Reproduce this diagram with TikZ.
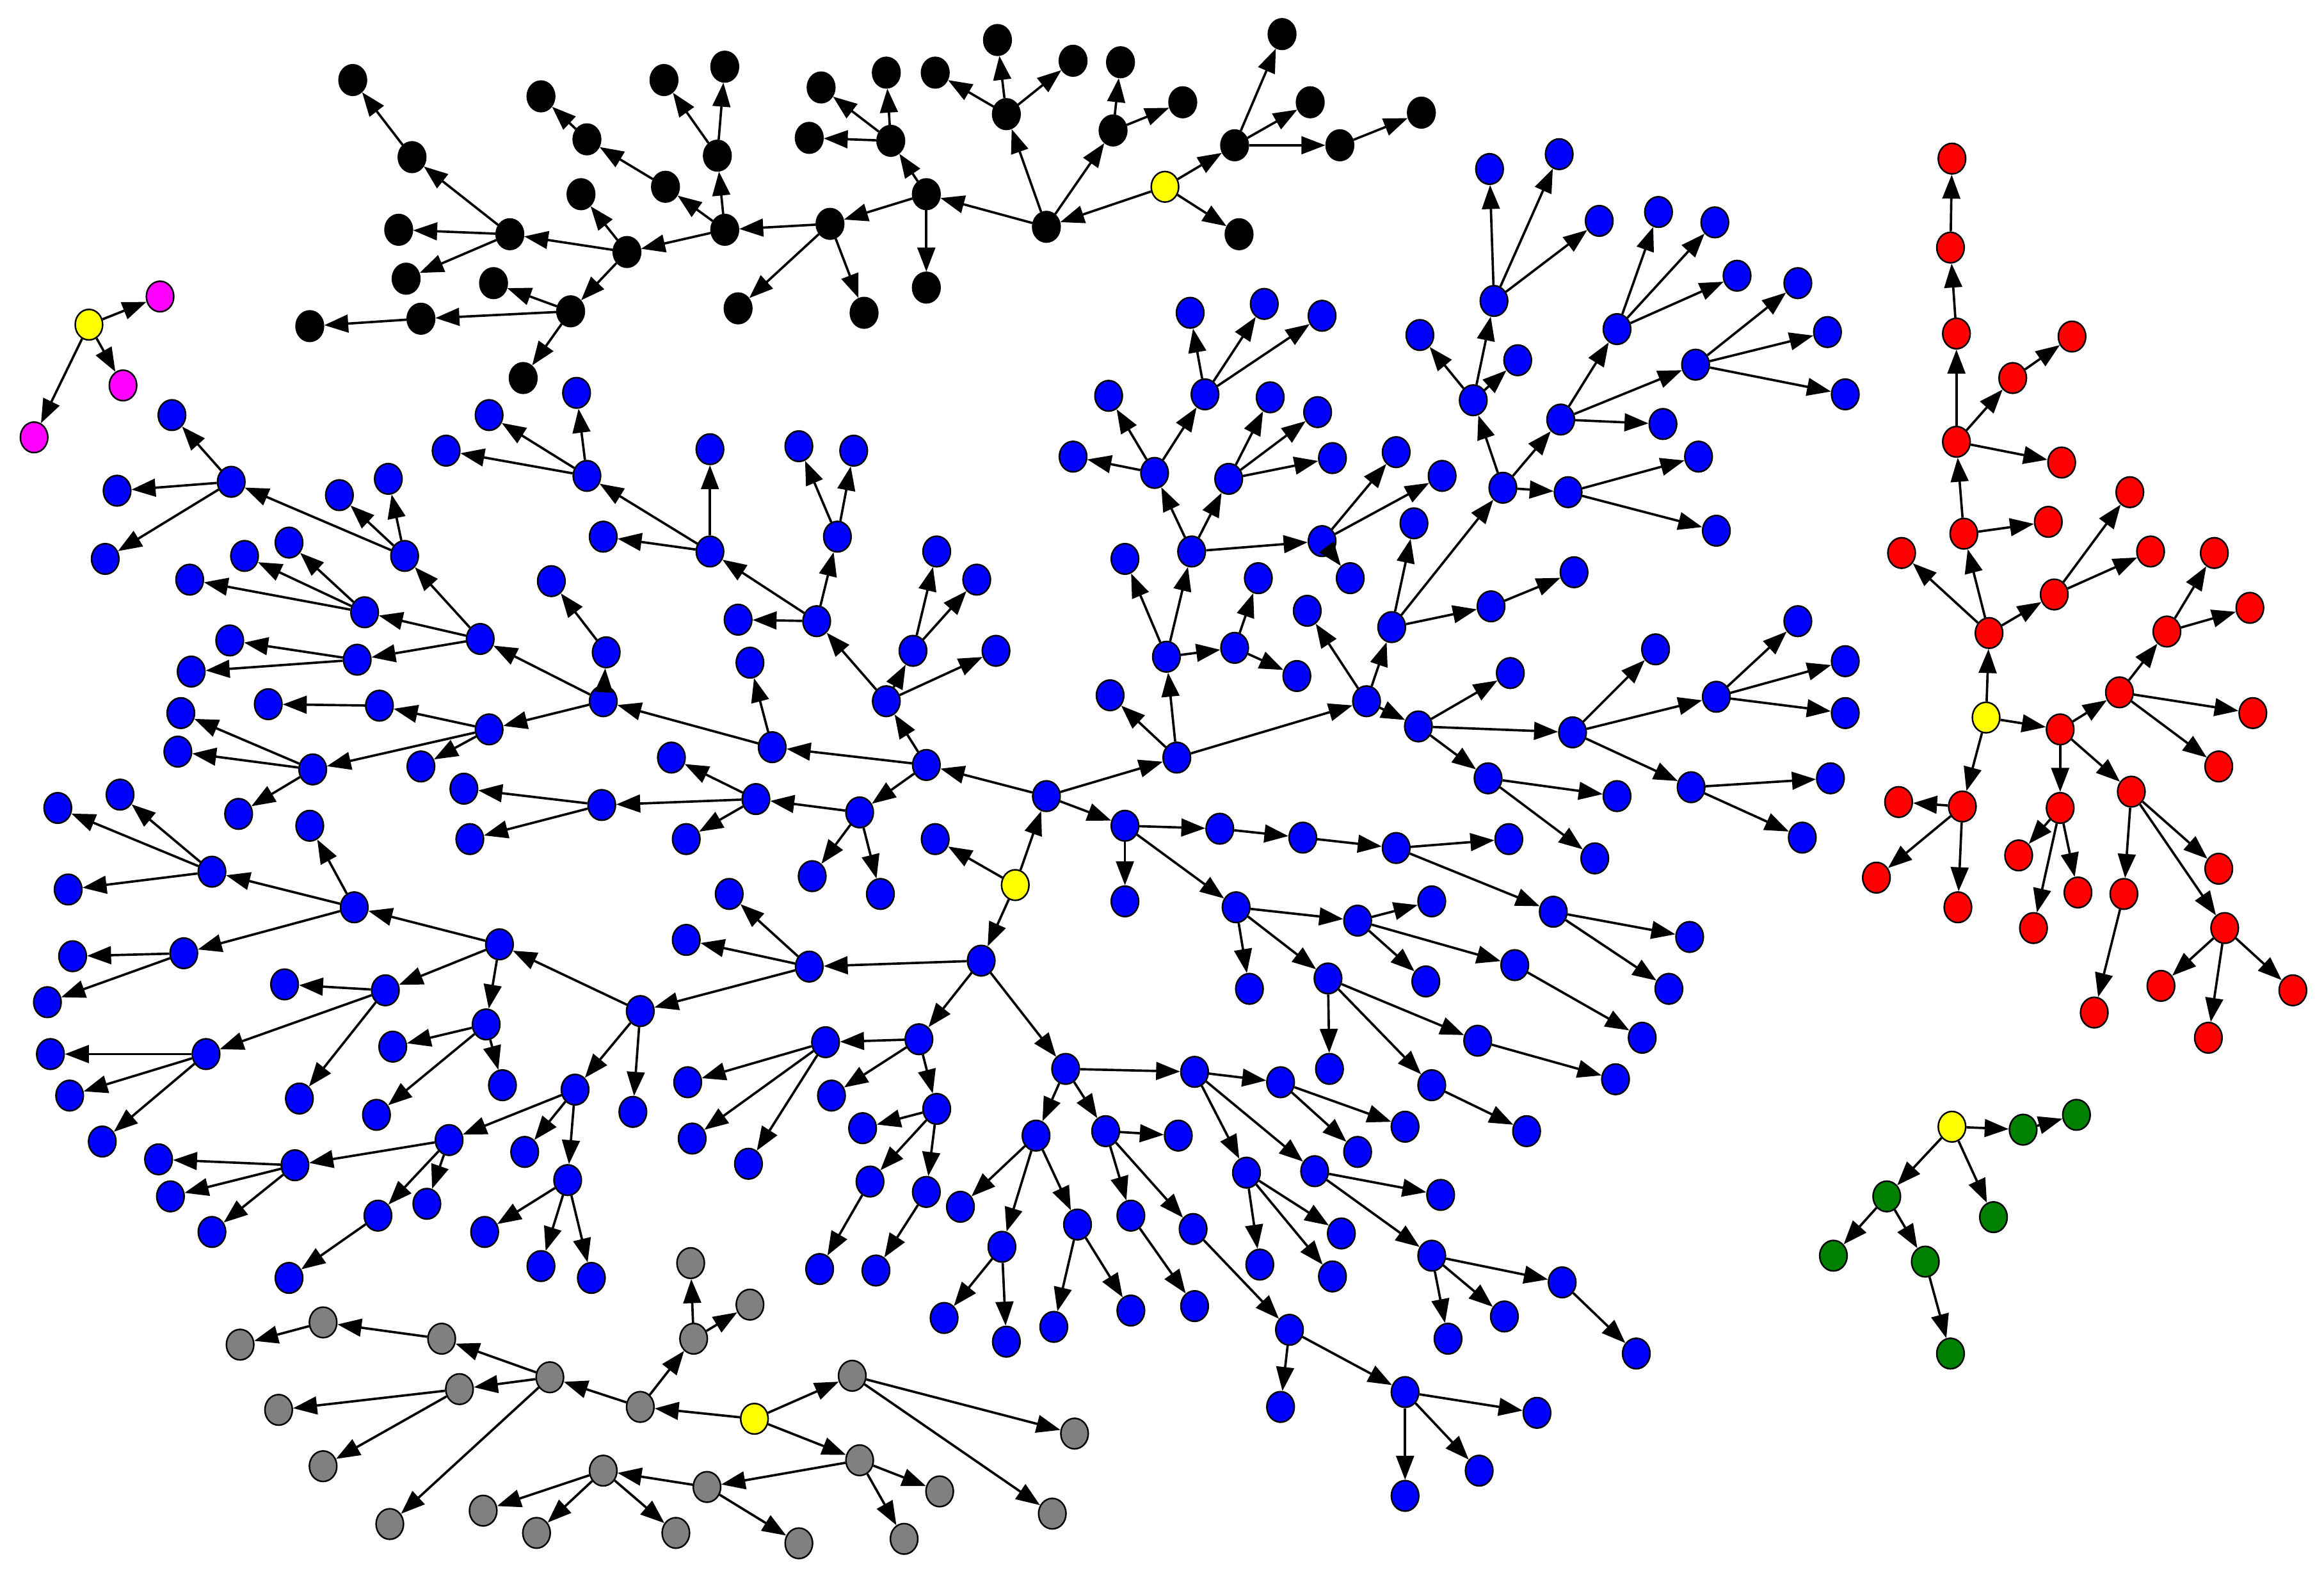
\documentclass[tikz,border=0pt]{standalone}
\usetikzlibrary{shapes.geometric,arrows.meta}
\definecolor{dgreen}{RGB}{0,128,0}
\definecolor{mgray}{RGB}{128,128,128}
\definecolor{pmag}{RGB}{255,0,255}
\definecolor{pyel}{RGB}{255,255,0}
\definecolor{pblue}{RGB}{0,0,255}
\definecolor{pred}{RGB}{255,0,0}
\tikzset{
  nd/.style={ellipse, draw=black, line width=0.3pt, minimum width=0.185cm, minimum height=0.206cm, inner sep=0pt},
  bl/.style={nd, fill=pblue},
  bk/.style={nd, fill=black},
  rd/.style={nd, fill=pred},
  yl/.style={nd, fill=pyel},
  mg/.style={nd, fill=pmag},
  gy/.style={nd, fill=mgray},
  gn/.style={nd, fill=dgreen},
  ed/.style={-{Triangle[length=4.6pt,width=3.4pt]}, line width=0.45pt, black}
}
\begin{document}
\begin{tikzpicture}[x=0.01cm,y=-0.01cm]
\fill[white] (0,0) rectangle (1568,1061);
\useasboundingbox (0,0) rectangle (1568,1061);
% roots
\foreach \n/\x/\y in {Y1/60/219, Yb/786/126, YB/685/597, Yr/1340/484, Yg2/1317/760, Yg/509/957}
  \node[yl] (\n) at (\x,\y) {};
% magenta
\foreach \n/\x/\y in {m1/108/200, m2/83/260, m3/23/295}
  \node[mg] (\n) at (\x,\y) {};
% black
\foreach \n/\x/\y in {b1/706/153, b2/833/98, b3/836/158, b4/865/23, b5/884/69, b6/904/98, b7/959/76, b8/625/131, b9/679/77, b10/751/88, b11/756/42, b12/798/69, b13/673/27, b14/631/49, b15/724/41, b16/601/95, b17/625/194, b18/560/151, b19/598/49, b20/554/59, b21/546/93, b22/489/155, b23/498/208, b24/583/211, b25/484/105, b26/423/170, b27/449/126, b28/489/45, b29/448/54, b30/396/94, b31/365/65, b32/392/131, b33/385/210, b34/344/158, b35/278/106, b36/269/155, b37/274/188, b38/238/54, b39/333/191, b40/284/215, b41/353/255, b42/209/220}
  \node[bk] (\n) at (\x,\y) {};
% blue
\foreach \n/\x/\y in {B1/706/537, B2/631/566, B3/662/648, B4/625/516, B5/759/557, B6/794/511, B7/598/473, B8/580/548, B9/521/504, B10/551/419, B11/616/439, B12/672/439, B13/632/372, B14/659/391, B15/565/362, B16/498/418, B17/479/372, B18/407/362, B19/479/303, B20/539/301, B21/576/304, B22/396/321, B23/409/440, B24/407/473, B25/372/392, B26/506/447, B27/510/539, B28/548/591, B29/594/603, B30/453/511, B31/406/543, B32/463/566, B33/546/652, B34/620/701, B35/719/721, B36/492/603, B37/463/634, B38/432/682, B39/557/703, B40/806/723, B41/759/608, B42/823/559, B43/834/612, B44/749/469, B45/787/443, B46/759/377, B47/922/473, B48/957/490, B49/939/423, B50/833/437, B51/875/456, B52/849/390, B53/804/372, B54/892/365, B55/911/390, B56/882/412, B58/1006/409, B59/1062/386, B60/1019/454, B61/1061/494, B62/1117/438, B63/1158/470, B64/1004/525, B65/1091/537, B66/1076/579, B67/1141/531, B68/879/565, B69/942/572, B70/1018/566, B71/916/621, B72/966/608, B73/843/667, B74/962/662, B75/896/660, B76/1022/651, B77/1048/615, B78/1140/632, B79/1126/667, B80/1108/700, B81/997/702, B82/897/721, B83/864/730}
  \node[bl] (\n) at (\x,\y) {};
\foreach \n/\x/\y in {B85/803/211, B86/853/205, B87/892/213, B88/813/266, B89/857/268, B90/889/278, B91/829/323, B92/899/309, B93/942/305, B94/973/321, B95/954/353, B96/779/319, B97/958/226, B98/1005/114, B99/1052/104, B100/1008/203, B101/1079/149, B102/1024/243, B103/994/270, B104/1119/143, B105/1157/150, B106/1091/222, B107/1172/186, B108/1144/246, B109/1053/283, B110/1122/286, B111/1146/308, B112/1014/329, B113/1058/332, B114/1158/358, B115/748/267, B116/724/308, B117/1213/191, B118/1233/224, B119/1245/266, C1/1213/419, C2/1245/446, C3/1245/481, C4/1235/525, C5/1216/565}
  \node[bl] (\n) at (\x,\y) {};
\foreach \n/\x/\y in {H1/156/325, H2/116/280, H3/79/331, L1/71/377, L2/195/366, L3/165/375, L4/273/375, L4a/229/334, L4b/262/323, L5/128/391, L6/246/413, L8/324/431, L9/155/432, L10/241/445, L11/129/453, L12/181/475, L13/256/476, L14/122/481, L15/330/492, L16/120/507, L17/211/519, L18/284/517, L19/313/532, L20/317/566, L21/161/549, L22/39/545, L23/81/536, L24/209/557, L25/143/588, L26/46/600, L27/239/612, L28/337/637, L29/49/645, L30/124/643, L31/32/676, L32/192/664, L33/260/668, L34/328/691, L35/34/711, L36/139/711, L37/265/706, L38/47/739, L39/69/770, L40/202/741, L41/254/752, L42/339/732, L43/388/735, L44/303/769, L45/354/777, L46/199/786, L47/107/782, L48/115/807, L49/143/831, L50/383/796, L51/255/820, L52/288/812, L53/327/831, L54/365/854, L55/399/862, L56/195/862, P1/389/265, P2/330/280, P3/301/304}
  \node[bl] (\n) at (\x,\y) {};
\foreach \n/\x/\y in {L57/427/750, L58/464/730, L59/467/768, L60/505/785, L61/561/739, L62/582/761, L63/632/748, L64/587/797, L65/625/804, L66/553/856, L67/591/857, L68/699/766, L69/746/763, L70/795/766, L71/648/814, L72/676/841, L73/727/826, L74/763/820, L75/637/889, L76/679/905, L77/711/895, L78/763/884, L79/966/732, L80/1090/728, L81/948/760, L82/1030/763, L83/916/777, L84/841/791, L85/887/790, L86/972/806, L87/805/829, L88/905/832, L89/850/853, L90/899/861, L91/966/847, L92/1054/865, L93/1015/888, L94/977/903, L95/1104/913, L96/806/881, L97/870/897, L98/864/949, L99/948/939, L100/1037/953, L101/998/992, L102/948/1009}
  \node[bl] (\n) at (\x,\y) {};
% red
\foreach \n/\x/\y in {R1/1325/360, R2/1382/352, R3/1283/373, R4/1451/372, R5/1494/373, R6/1342/427, R7/1386/401, R8/1462/426, R9/1518/410, R10/1430/467, R11/1390/492, R12/1520/481, R13/1497/517, R14/1324/544, R15/1281/541, R16/1438/534, R17/1390/545, R18/1266/592, R19/1321/612, R20/1362/577, R21/1402/602, R22/1372/626, R23/1433/603, R24/1497/586, R25/1501/626, R26/1413/683, R27/1458/665, R28/1490/700, R29/1547/668, R30/1317/107, R31/1316/167, R32/1320/225, R33/1398/227, R34/1358/255, R35/1320/298, R36/1391/312, R37/1437/332}
  \node[rd] (\n) at (\x,\y) {};
% green
\foreach \n/\x/\y in {G1/1365/762, G2/1401/752, G3/1273/807, G4/1345/821, G5/1237/847, G6/1299/851, G7/1316/913}
  \node[gn] (\n) at (\x,\y) {};
% gray
\foreach \n/\x/\y in {Gr1/575/928, Gr2/580/985, Gr3/477/1003, Gr4/407/992, Gr5/432/949, Gr6/468/903, Gr7/371/929, Gr8/298/903, Gr9/218/892, Gr10/310/937, Gr11/725/967, Gr12/710/1021, Gr13/634/1006, Gr14/610/1038, Gr15/539/1041, Gr16/456/1034, Gr17/326/1019, Gr18/362/1034, Gr19/466/852, Gr20/506/880, Gr21/263/1028, Gr22/162/907, Gr23/188/951, Gr24/218/989}
  \node[gy] (\n) at (\x,\y) {};
% edges
\foreach \a/\b in {Y1/m1, Y1/m2, Y1/m3,
  Yb/b1, Yb/b2, Yb/b3, b2/b4, b2/b5, b2/b6, b6/b7, b1/b8, b1/b9, b1/b10, b10/b11, b10/b12, b9/b13, b9/b14, b9/b15, b8/b16, b8/b17, b8/b18, b16/b19, b16/b20, b16/b21, b18/b22, b18/b23, b18/b24, b22/b25, b22/b26, b22/b27, b25/b28, b25/b29, b27/b30, b30/b31, b26/b32, b26/b33, b26/b34, b34/b35, b34/b36, b34/b37, b35/b38, b33/b39, b33/b40, b33/b41, b40/b42}
  \draw[ed] (\a) -- (\b);
\foreach \a/\b in {YB/B1, YB/B2, YB/B3, B1/B4, B1/B5, B1/B6, B4/B7, B4/B8, B4/B9, B7/B10, B7/B11, B7/B12, B11/B13, B11/B14, B10/B15, B10/B16, B10/B17, B15/B20, B15/B21, B17/B18, B17/B19, B17/B22, B22/P1, B22/P2, B22/P3, B9/B24, B9/B26, B24/B23, B24/L8, B24/L15, B23/B25, L8/L4, L8/L6, L8/L10, L4/H1, L4/L4a, L4/L4b, H1/H2, H1/H3, H1/L1, L6/L2, L6/L3, L6/L5, L10/L9, L10/L11, L15/L13, L15/L17, L15/L18, L13/L12, L17/L14, L17/L16, L17/L21, B8/B27, B8/B28, B8/B29, B27/B30, B27/B31, B27/B32, B31/L19, B31/L20}
  \draw[ed] (\a) -- (\b);
\foreach \a/\b in {B3/B33, B3/B34, B3/B35, B33/B36, B33/B37, B33/B38, B38/L28, B38/L43, B38/L57, L28/L27, L28/L33, L28/L34, L27/L24, L27/L25, L27/L30, L25/L22, L25/L23, L25/L26, L30/L29, L30/L31, L33/L32, L33/L36, L33/L40, L36/L35, L36/L38, L36/L39, L34/L37, L34/L41, L34/L42, L43/L44, L43/L45, L43/L50, L44/L46, L44/L51, L44/L52, L46/L47, L46/L48, L46/L49, L51/L56, L50/L53, L50/L54, L50/L55, B34/B39, B34/L61, B34/L63, B39/L58, B39/L59, B39/L60, L63/L62, L63/L64, L63/L65, L64/L66, L65/L67, B35/L68, B35/L69, B35/B40, L68/L71, L68/L72, L68/L73, L72/L75, L72/L76, L73/L77, L73/L78, L69/L70, L69/L74, L69/L87, L74/L96, L87/L97, L97/L98, L97/L99, L99/L100, L99/L101, L99/L102, B40/B83, B40/L84, B40/L85, B83/L81, B83/L83, L84/L88, L84/L89, L84/L90, L85/L86, L85/L91, L91/L92, L91/L93, L91/L94, L92/L95}
  \draw[ed] (\a) -- (\b);
\foreach \a/\b in {B5/B41, B5/B42, B5/B43, B42/B68, B68/B69, B69/B70, B69/B77, B77/B78, B77/B79, B43/B71, B43/B73, B43/B75, B71/B72, B71/B74, B71/B76, B76/B80, B75/B82, B75/B81, B75/L79, B81/L80, L79/L82, B6/B44, B6/B45, B6/B47, B45/B46, B45/B53, B45/B50, B50/B52, B50/B51, B53/B96, B53/B91, B53/B54, B96/B115, B96/B116, B96/B88, B88/B85, B88/B86, B88/B87, B91/B89, B91/B90, B91/B92, B54/B93, B54/B94, B54/B55, B47/B48, B47/B49, B47/B56, B49/B95, B49/B58, B49/B112, B58/B59, B112/B103, B112/B109, B112/B113, B103/B97, B103/B100, B103/B102, B100/B98, B100/B99, B100/B101, B109/B106, B109/B108, B109/B110, B106/B104, B106/B105, B106/B107, B108/B117, B108/B118, B108/B119, B113/B111, B113/B114, B48/B60, B48/B61, B48/B64, B61/B62, B61/B63, B61/B67, B63/C1, B63/C2, B63/C3, B67/C4, B67/C5, B64/B65, B64/B66}
  \draw[ed] (\a) -- (\b);
\foreach \a/\b in {Yr/R6, Yr/R11, Yr/R14, R6/R3, R6/R1, R6/R7, R7/R4, R7/R37, R1/R35, R1/R2, R35/R32, R35/R34, R35/R36, R34/R33, R32/R31, R31/R30, R11/R10, R11/R17, R11/R16, R10/R8, R10/R12, R10/R13, R8/R5, R8/R9, R14/R15, R14/R18, R14/R19, R17/R20, R17/R22, R17/R21, R16/R24, R16/R23, R16/R25, R23/R26, R25/R27, R25/R28, R25/R29,
  Yg2/G1, G1/G2, Yg2/G3, Yg2/G4, G3/G5, G3/G6, G6/G7,
  Yg/Gr1, Yg/Gr2, Yg/Gr5, Gr1/Gr11, Gr1/Gr12, Gr2/Gr13, Gr2/Gr14, Gr2/Gr3, Gr3/Gr4, Gr3/Gr15, Gr4/Gr16, Gr4/Gr17, Gr4/Gr18, Gr5/Gr6, Gr5/Gr7, Gr6/Gr19, Gr6/Gr20, Gr7/Gr8, Gr7/Gr10, Gr7/Gr21, Gr8/Gr9, Gr9/Gr22, Gr10/Gr23, Gr10/Gr24}
  \draw[ed] (\a) -- (\b);
\end{tikzpicture}
\end{document}
